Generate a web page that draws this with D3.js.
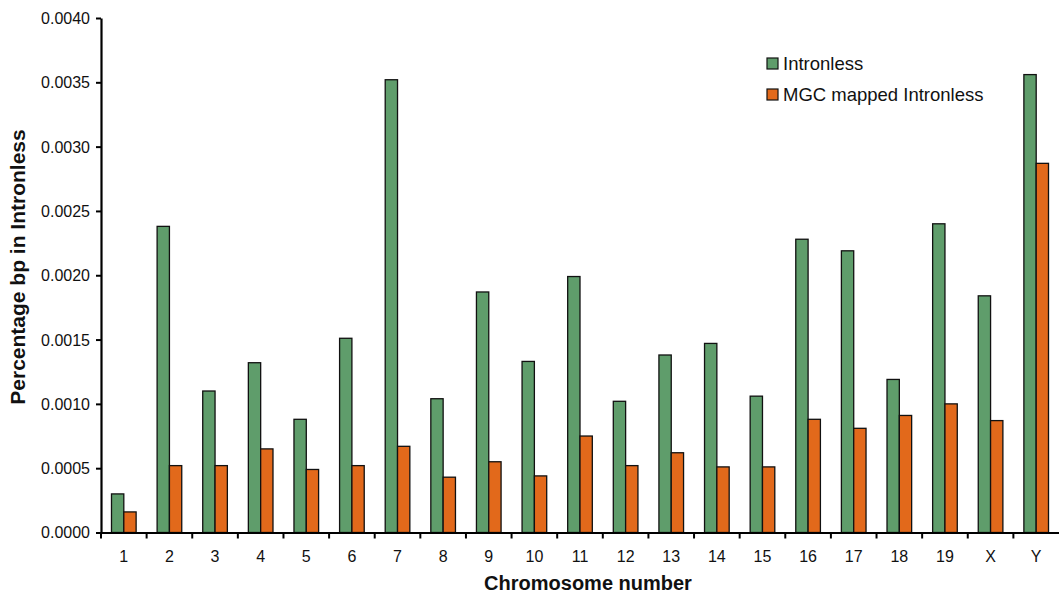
<!DOCTYPE html>
<html>
<head>
<meta charset="utf-8">
<script src="https://cdn.jsdelivr.net/npm/d3@7/dist/d3.min.js"></script>
<style>
  html, body { margin: 0; padding: 0; background: #fff; }
  svg { display: block; font-family: "Liberation Sans", Arial, Helvetica, sans-serif; }
</style>
</head>
<body>
<svg id="chart" width="1059" height="602"></svg>
<script>
const categories = ["1","2","3","4","5","6","7","8","9","10","11","12","13","14","15","16","17","18","19","X","Y"];
const seriesNames = ["Intronless", "MGC mapped Intronless"];
const intronless = [0.00030,0.00238,0.00110,0.00132,0.00088,0.00151,0.00352,0.00104,0.00187,0.00133,0.00199,0.00102,0.00138,0.00147,0.00106,0.00228,0.00219,0.00119,0.00240,0.00184,0.00356];
const mgcMapped  = [0.00016,0.00052,0.00052,0.00065,0.00049,0.00052,0.00067,0.00043,0.00055,0.00044,0.00075,0.00052,0.00062,0.00051,0.00051,0.00088,0.00081,0.00091,0.00100,0.00087,0.00287];
const yTicks = [0,0.0005,0.0010,0.0015,0.0020,0.0025,0.0030,0.0035,0.0040];
const colors = ["#5f9d6b", "#e2691b"];

(function () {
const svg = d3.select("#chart");
const mLeft = 101, mRight = 1059, mTop = 18, mBottom = 532.5;

const x0 = d3.scaleBand().domain(categories).range([mLeft, mRight]).paddingInner(0.46).paddingOuter(0.23);
const x1 = d3.scaleBand().domain(seriesNames).range([0, x0.bandwidth()]).padding(0);
const y = d3.scaleLinear().domain([0, 0.0040]).range([mBottom, mTop]);

const data = categories.map((c, i) => ({ cat: c, vals: [intronless[i], mgcMapped[i]] }));

// bars
const groups = svg.append("g").selectAll("g").data(data).join("g")
  .attr("transform", d => `translate(${x0(d.cat)},0)`);
groups.selectAll("rect").data(d => d.vals.map((v, j) => ({ v, s: seriesNames[j], j })))
  .join("rect")
  .attr("x", d => x1(d.s))
  .attr("y", d => y(d.v))
  .attr("width", x1.bandwidth())
  .attr("height", d => mBottom - y(d.v))
  .attr("fill", d => colors[d.j])
  .attr("stroke", "#111")
  .attr("stroke-width", 1.3);

// y axis
const yAxis = d3.axisLeft(y).tickValues(yTicks).tickFormat(d3.format(".4f")).tickSize(5).tickSizeOuter(0);
const gy = svg.append("g").attr("transform", `translate(${mLeft},0)`).call(yAxis);
gy.select(".domain").attr("stroke", "#000").attr("stroke-width", 2.2);
gy.selectAll(".tick line").attr("stroke", "#000").attr("stroke-width", 2);
gy.selectAll(".tick text").attr("font-size", 16).attr("fill", "#111").attr("x", -11).attr("dy", "0.34em")
  .attr("font-family", "'Liberation Sans', Arial, sans-serif");

// x axis
const xAxis = d3.axisBottom(x0).tickSize(0).tickSizeOuter(0);
const gx = svg.append("g").attr("transform", `translate(0,${mBottom})`).call(xAxis);
gx.select(".domain").attr("stroke", "#000").attr("stroke-width", 2.2);
gx.selectAll(".tick text").attr("font-size", 16).attr("fill", "#111").attr("y", 18).attr("dy", "0.71em")
  .attr("font-family", "'Liberation Sans', Arial, sans-serif");
// ticks at category boundaries
const step = x0.step();
const boundaries = d3.range(categories.length).map(i => mLeft + i * step);
gx.append("g").selectAll("line").data(boundaries).join("line")
  .attr("x1", d => d).attr("x2", d => d).attr("y1", 0).attr("y2", 6)
  .attr("stroke", "#000").attr("stroke-width", 2);

// axis titles
svg.append("text").attr("x", 588).attr("y", 590).attr("text-anchor", "middle")
  .attr("font-size", 20).attr("font-weight", "bold").attr("fill", "#111").text("Chromosome number");
svg.append("text").attr("transform", "translate(25,267) rotate(-90)").attr("text-anchor", "middle")
  .attr("font-size", 21).attr("font-weight", "bold").attr("fill", "#111").text("Percentage bp in Intronless");

// legend
const legend = svg.append("g").attr("transform", "translate(767,58)");
seriesNames.forEach((s, i) => {
  const g = legend.append("g").attr("transform", `translate(0,${i * 31})`);
  g.append("rect").attr("width", 11).attr("height", 11).attr("fill", colors[i]).attr("stroke", "#111").attr("stroke-width", 1.2);
  g.append("text").attr("x", 16).attr("y", 11.5).attr("font-size", 18.5).attr("fill", "#111").text(s);
});
})();
</script>
</body>
</html>
